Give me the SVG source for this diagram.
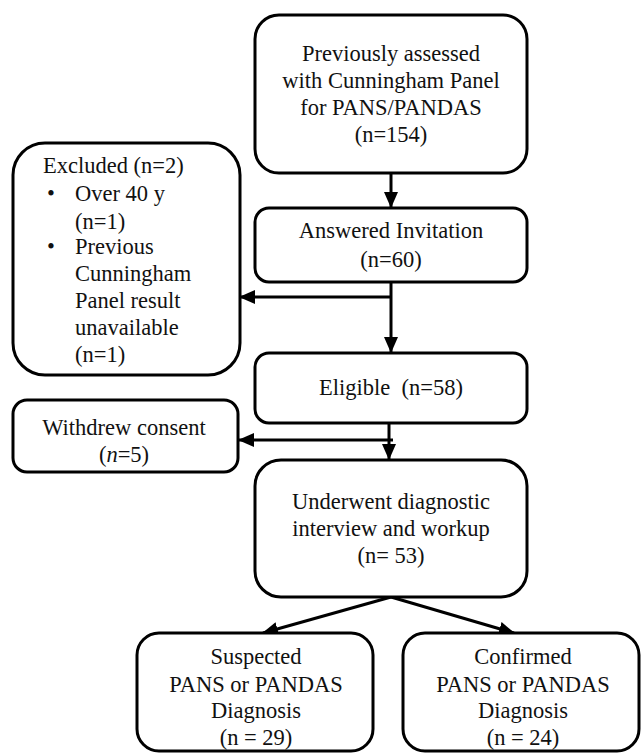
<svg xmlns="http://www.w3.org/2000/svg" width="641" height="755" viewBox="0 0 641 755">
<style>
.box{fill:#fff;stroke:#000;stroke-width:3}
.ln{stroke:#000;stroke-width:3;fill:none}
</style>
<defs>
<marker id="ah" markerUnits="userSpaceOnUse" markerWidth="16" markerHeight="14" refX="15" refY="7" orient="auto">
<path d="M0,0 L16,7 L0,14 Z" fill="#000"/>
</marker>
</defs>
<rect width="641" height="755" fill="#fff"/>
<g id="connectors">
<line class="ln" x1="391" y1="173" x2="391" y2="207" marker-end="url(#ah)"/>
<line class="ln" x1="391" y1="282" x2="391" y2="352" marker-end="url(#ah)"/>
<line class="ln" x1="392" y1="297" x2="240" y2="297" marker-end="url(#ah)"/>
<line class="ln" x1="389" y1="423" x2="389" y2="459" marker-end="url(#ah)"/>
<line class="ln" x1="393" y1="440" x2="239" y2="440" marker-end="url(#ah)"/>
<line class="ln" x1="391" y1="597" x2="263" y2="633" marker-end="url(#ah)"/>
<line class="ln" x1="391" y1="597" x2="514" y2="633" marker-end="url(#ah)"/>
</g>
<g font-size="22.5" fill="#111">
<g id="n1" text-anchor="middle">
<rect class="box" x="255" y="15" width="272" height="158" rx="24"/>
<text style="font-family:'Liberation Serif'" x="391" y="61">Previously assessed</text>
<text style="font-family:'Liberation Serif'" x="391" y="88">with Cunningham Panel</text>
<text style="font-family:'Liberation Serif'" x="391" y="115">for PANS/PANDAS</text>
<text style="font-family:'Liberation Serif'" x="391" y="142">(n=154)</text>
</g>
<g id="n2" text-anchor="middle">
<rect class="box" x="255" y="208" width="272" height="74" rx="14"/>
<text style="font-family:'Liberation Serif'" x="391" y="238">Answered Invitation</text>
<text style="font-family:'Liberation Serif'" x="391" y="267">(n=60)</text>
</g>
<g id="excluded">
<rect class="box" x="13" y="143" width="227" height="232" rx="32"/>
<text style="font-family:'Liberation Serif'" x="43" y="173">Excluded (n=2)</text>
<text style="font-family:'Liberation Serif'" x="47" y="201">•</text>
<text style="font-family:'Liberation Serif'" x="75" y="201">Over 40 y</text>
<text style="font-family:'Liberation Serif'" x="75" y="229">(n=1)</text>
<text style="font-family:'Liberation Serif'" x="47" y="254">•</text>
<text style="font-family:'Liberation Serif'" x="75" y="254">Previous</text>
<text style="font-family:'Liberation Serif'" x="75" y="281">Cunningham</text>
<text style="font-family:'Liberation Serif'" x="75" y="308">Panel result</text>
<text style="font-family:'Liberation Serif'" x="75" y="335">unavailable</text>
<text style="font-family:'Liberation Serif'" x="75" y="362">(n=1)</text>
</g>
<g id="n3" text-anchor="middle">
<rect class="box" x="255" y="353" width="272" height="70" rx="14"/>
<text style="font-family:'Liberation Serif'" x="391" y="395" xml:space="preserve">Eligible  (n=58)</text>
</g>
<g id="withdrew" text-anchor="middle">
<rect class="box" x="13" y="400" width="225" height="72" rx="14"/>
<text style="font-family:'Liberation Serif'" x="124" y="435">Withdrew consent</text>
<text style="font-family:'Liberation Serif'" x="124" y="462">(<tspan font-style="italic">n</tspan>=5)</text>
</g>
<g id="n4" text-anchor="middle">
<rect class="box" x="255" y="460" width="272" height="137" rx="26"/>
<text style="font-family:'Liberation Serif'" x="391" y="509">Underwent diagnostic</text>
<text style="font-family:'Liberation Serif'" x="391" y="536">interview and workup</text>
<text style="font-family:'Liberation Serif'" x="391" y="563">(n= 53)</text>
</g>
<g id="suspected" text-anchor="middle">
<rect class="box" x="137" y="633" width="236" height="118" rx="22"/>
<text style="font-family:'Liberation Serif'" x="256" y="664">Suspected</text>
<text style="font-family:'Liberation Serif'" x="256" y="692">PANS or PANDAS</text>
<text style="font-family:'Liberation Serif'" x="256" y="718">Diagnosis</text>
<text style="font-family:'Liberation Serif'" x="256" y="745">(n = 29)</text>
</g>
<g id="confirmed" text-anchor="middle">
<rect class="box" x="403" y="633" width="236" height="118" rx="22"/>
<text style="font-family:'Liberation Serif'" x="523" y="664">Confirmed</text>
<text style="font-family:'Liberation Serif'" x="523" y="692">PANS or PANDAS</text>
<text style="font-family:'Liberation Serif'" x="523" y="718">Diagnosis</text>
<text style="font-family:'Liberation Serif'" x="523" y="745">(n = 24)</text>
</g>
</g>
</svg>
